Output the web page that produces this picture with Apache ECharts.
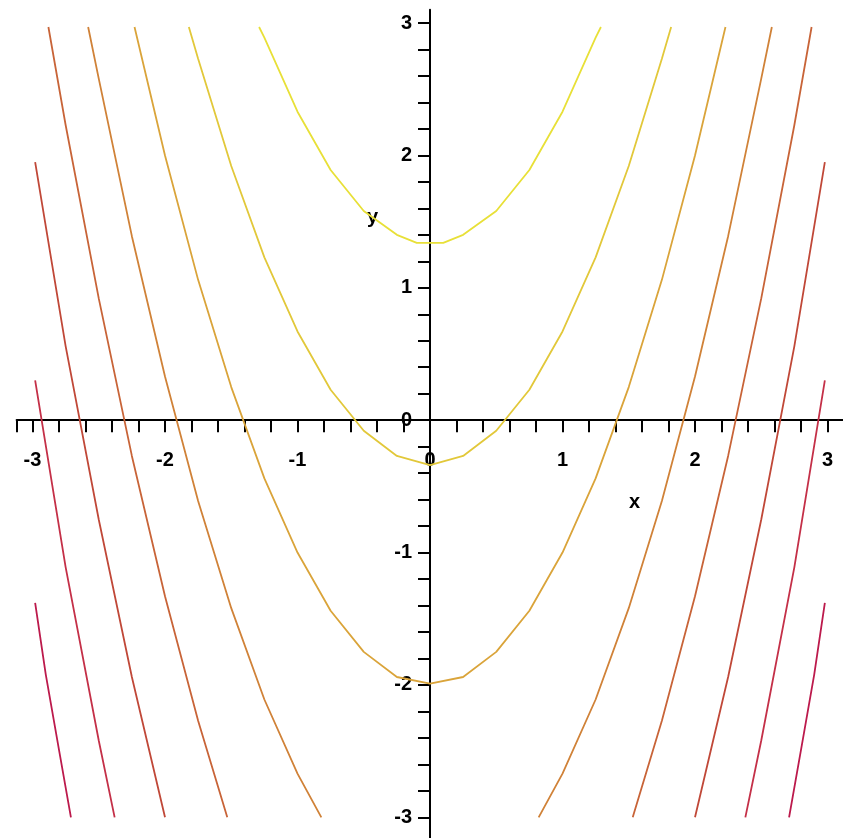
<!DOCTYPE html>
<html>
<head>
<meta charset="utf-8">
<script src="https://cdn.jsdelivr.net/npm/echarts@6/dist/echarts.min.js"></script>
<style>
html,body{margin:0;padding:0;background:#fff;}
#chart{width:843px;height:838px;}
</style>
</head>
<body>
<div id="chart"></div>
<script>
// Contour curves (x, y)
const level1 = [[-1.29,2.97],[-1.25,2.89],[-1.0,2.33],[-0.75,1.89],[-0.5,1.58],[-0.25,1.40],[-0.1,1.34],[0.1,1.34],[0.25,1.40],[0.5,1.58],[0.75,1.89],[1.0,2.33],[1.25,2.89],[1.29,2.97]];
const level2 = [[-1.82,2.97],[-1.75,2.73],[-1.5,1.92],[-1.25,1.23],[-1.0,0.67],[-0.75,0.23],[-0.5,-0.08],[-0.25,-0.27],[0,-0.34],[0.25,-0.27],[0.5,-0.08],[0.75,0.23],[1.0,0.67],[1.25,1.23],[1.5,1.92],[1.75,2.73],[1.82,2.97]];
const level3 = [[-2.23,2.97],[-2.0,2.0],[-1.75,1.06],[-1.5,0.25],[-1.25,-0.44],[-1.0,-1.0],[-0.75,-1.44],[-0.5,-1.75],[-0.25,-1.94],[0,-1.99],[0.25,-1.94],[0.5,-1.75],[0.75,-1.44],[1.0,-1.0],[1.25,-0.44],[1.5,0.25],[1.75,1.06],[2.0,2.0],[2.23,2.97]];
const level4Left = [[-2.58,2.97],[-2.5,2.58],[-2.25,1.39],[-2.0,0.33],[-1.75,-0.61],[-1.5,-1.42],[-1.25,-2.11],[-1.0,-2.67],[-0.82,-3.0]];
const level4Right = [[0.82,-3.0],[1.0,-2.67],[1.25,-2.11],[1.5,-1.42],[1.75,-0.61],[2.0,0.33],[2.25,1.39],[2.5,2.58],[2.58,2.97]];
const level5Left = [[-2.88,2.97],[-2.75,2.23],[-2.5,0.92],[-2.25,-0.27],[-2.0,-1.33],[-1.75,-2.27],[-1.53,-3.0]];
const level5Right = [[1.53,-3.0],[1.75,-2.27],[2.0,-1.33],[2.25,-0.27],[2.5,0.92],[2.75,2.23],[2.88,2.97]];
const level6Left = [[-2.98,1.95],[-2.75,0.56],[-2.5,-0.75],[-2.25,-1.94],[-2.0,-3.0]];
const level6Right = [[2.0,-3.0],[2.25,-1.94],[2.5,-0.75],[2.75,0.56],[2.98,1.95]];
const level7Left = [[-2.98,0.30],[-2.75,-1.11],[-2.5,-2.42],[-2.38,-3.0]];
const level7Right = [[2.38,-3.0],[2.5,-2.42],[2.75,-1.11],[2.98,0.30]];
const level8Left = [[-2.98,-1.38],[-2.9,-1.92],[-2.8,-2.49],[-2.71,-3.0]];
const level8Right = [[2.71,-3.0],[2.8,-2.49],[2.9,-1.92],[2.98,-1.38]];

// Axis ticks and labels
const xTickValues = [-3.12,-3,-2.8,-2.6,-2.4,-2.2,-2,-1.8,-1.6,-1.4,-1.2,-1,-0.8,-0.6,-0.4,-0.2,0,0.2,0.4,0.6,0.8,1,1.2,1.4,1.6,1.8,2,2.2,2.4,2.6,2.8,3];
const yTickValues = [-3.2,-3,-2.8,-2.6,-2.4,-2.2,-2,-1.8,-1.6,-1.4,-1.2,-1,-0.8,-0.6,-0.4,-0.2,0,0.2,0.4,0.6,0.8,1,1.2,1.4,1.6,1.8,2,2.2,2.4,2.6,2.8,3];
const xLabelValues = [-3,-2,-1,0,1,2,3];
const yLabelValues = [-3,-2,-1,0,1,2,3];

const curves = [
  {data: level1, color: '#e8e038'},
  {data: level2, color: '#e2c83a'},
  {data: level3, color: '#daa43a'},
  {data: level4Left, color: '#d08238'},
  {data: level4Right, color: '#d08238'},
  {data: level5Left, color: '#c86438'},
  {data: level5Right, color: '#c86438'},
  {data: level6Left, color: '#c04838'},
  {data: level6Right, color: '#c04838'},
  {data: level7Left, color: '#c43048'},
  {data: level7Right, color: '#c43048'},
  {data: level8Left, color: '#bc1a4c'},
  {data: level8Right, color: '#bc1a4c'}
];

const G = {left: 16.6, top: 9.8, width: 826.8, height: 834};
const xMin = -3.12, xMax = 3.12, yMin = -3.2, yMax = 3.1;
// pixel position of the value 0 on each axis, used to shift the axes onto the origin
const zeroX = G.left + (0 - xMin) / (xMax - xMin) * G.width;
const zeroY = G.top + (yMax - 0) / (yMax - yMin) * G.height;

const chart = echarts.init(document.getElementById('chart'), null, {renderer: 'canvas'});
const labelFont = {fontFamily: 'Liberation Sans, Arial, sans-serif', fontWeight: 'bold', fontSize: 20, color: '#000'};
chart.setOption({
  animation: false,
  backgroundColor: '#ffffff',
  grid: Object.assign({containLabel: false, outerBoundsMode: 'none'}, G),
  xAxis: {
    type: 'value', min: xMin, max: xMax, position: 'bottom',
    offset: -(G.top + G.height - zeroY),
    splitLine: {show: false},
    axisLine: {onZero: false, lineStyle: {color: '#000', width: 2}},
    axisTick: {show: true, length: 12, lineStyle: {color: '#000', width: 2}, customValues: xTickValues},
    axisLabel: Object.assign({show: true, margin: 30, customValues: xLabelValues, formatter: v => String(v)}, labelFont)
  },
  yAxis: {
    type: 'value', min: yMin, max: yMax, position: 'left',
    offset: -(zeroX - G.left),
    splitLine: {show: false},
    axisLine: {onZero: false, lineStyle: {color: '#000', width: 2}},
    axisTick: {show: true, length: 12, lineStyle: {color: '#000', width: 2}, customValues: yTickValues},
    axisLabel: Object.assign({show: true, margin: 18, customValues: yLabelValues, formatter: v => String(v)}, labelFont)
  },
  graphic: [
    {type: 'text', left: 629, top: 492, style: {text: 'x', font: 'bold 20px Liberation Sans, Arial, sans-serif', fill: '#000'}},
    {type: 'text', left: 367, top: 207, style: {text: 'y', font: 'bold 20px Liberation Sans, Arial, sans-serif', fill: '#000'}}
  ],
  series: curves.map(c => ({
    type: 'line', data: c.data, showSymbol: false, symbol: 'none', silent: true,
    lineStyle: {color: c.color, width: 1.8}, z: 1
  }))
});
</script>
</body>
</html>
